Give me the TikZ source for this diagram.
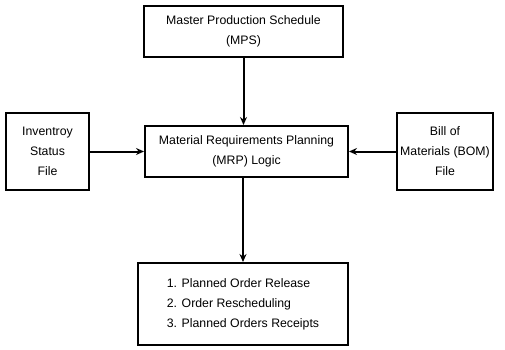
\documentclass[tikz,border=0pt]{standalone}
\usepackage{fontspec}
\setmainfont{Liberation Sans}
\usepackage{tikz}
\usetikzlibrary{arrows.meta,positioning}

\begin{document}
\begin{tikzpicture}[
  x=1pt, y=-1pt,
  box/.style={draw, line width=2pt, inner sep=2pt, align=center, font=\fontsize{12.3}{20}\selectfont},
  arr/.style={-{Stealth[length=8pt, width=7pt]}, line width=2pt},
]
  \useasboundingbox (0,0) rectangle (505,350);

  \node[box, minimum width=203pt, minimum height=51pt] (mrp) at (246.5,151.5) {Material Requirements Planning\\(MRP) Logic};
  \node[box, above=67pt of mrp, xshift=-3pt, minimum width=199pt, minimum height=51pt] (mps) {Master Production Schedule\\(MPS)};
  \node[box, left=54pt of mrp, minimum width=83pt, minimum height=77pt] (inv) {Inventroy\\Status\\File};
  \node[box, right=47pt of mrp, minimum width=96pt, minimum height=77pt] (bom) {Bill of\\Materials (BOM)\\File};
  \node[box, below=84pt of mrp, xshift=-3.5pt, minimum width=210pt, minimum height=82pt, align=left] (out) {1. Planned Order Release\\2. Order Rescheduling\\3. Planned Orders Receipts};

  \draw[arr] (mps.south) -- (mps.south |- mrp.north);
  \draw[arr] (inv) -- (mrp);
  \draw[arr] (bom) -- (mrp);
  \draw[arr] (out.north |- mrp.south) -- (out.north);
\end{tikzpicture}
\end{document}
